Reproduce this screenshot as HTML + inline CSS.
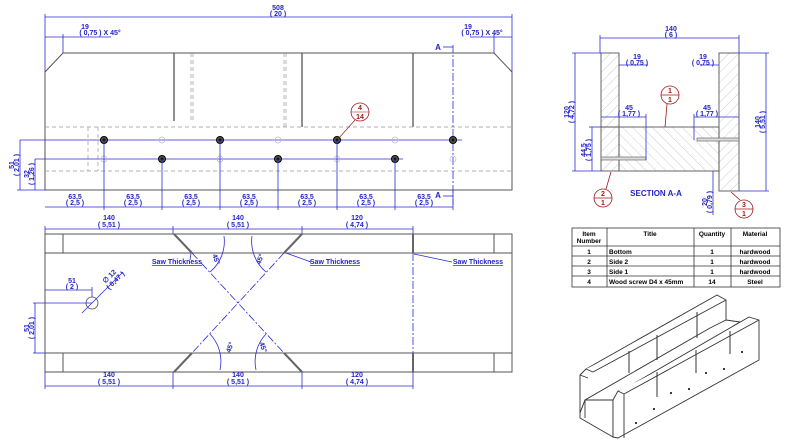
<!DOCTYPE html>
<html><head><meta charset="utf-8"><style>
html,body{margin:0;padding:0;background:#fff;width:800px;height:448px;overflow:hidden}
svg{display:block}
.b{fill:#2323c8;font-family:"Liberation Sans",sans-serif;font-weight:bold;font-size:7px;text-anchor:middle}
.r{fill:#a01818;font-family:"Liberation Sans",sans-serif;font-weight:bold;font-size:7px;text-anchor:middle}
.k{fill:#000;font-family:"Liberation Sans",sans-serif;font-weight:bold;font-size:6.5px}
.dl{stroke:#2a2ad8;stroke-width:0.8;fill:none}
.ol{stroke:#555;stroke-width:1;fill:none}
.hd{stroke:#999;stroke-width:0.7;fill:none;stroke-dasharray:4 3}
.cl{stroke:#2a2ad8;stroke-width:0.8;fill:none;stroke-dasharray:8 2 2 2}
.iso{stroke:#333;stroke-width:0.9;fill:#fff;stroke-linejoin:round}
</style></head><body>
<svg width="800" height="448" viewBox="0 0 800 448" xmlns="http://www.w3.org/2000/svg">
<defs>
<pattern id="h" width="7" height="7" patternUnits="userSpaceOnUse" patternTransform="rotate(45)"><line x1="0" y1="0" x2="0" y2="7" stroke="#aaa" stroke-width="0.6"/></pattern>
<pattern id="h2" width="7" height="7" patternUnits="userSpaceOnUse" patternTransform="rotate(-45)"><line x1="0" y1="0" x2="0" y2="7" stroke="#aaa" stroke-width="0.6"/></pattern>
</defs>

<line class="dl" x1="45" y1="17" x2="512" y2="17"/>
<line class="dl" x1="45" y1="14" x2="45" y2="72"/><line class="dl" x1="512" y1="14" x2="512" y2="72"/>
<text class="b" x="278" y="10">508</text><text class="b" x="278" y="16">( 20 )</text>
<line class="dl" x1="45" y1="37" x2="111" y2="37"/><line class="dl" x1="63" y1="34" x2="63" y2="53"/>
<text class="b" x="85" y="29">19</text><text class="b" x="100" y="35">( 0,75 )  X 45°</text>
<line class="dl" x1="470" y1="37" x2="512" y2="37"/><line class="dl" x1="494" y1="34" x2="494" y2="53"/>
<text class="b" x="468" y="29">19</text><text class="b" x="482" y="35">( 0,75 )  X 45°</text>

<polygon class="ol" points="63,53 494,53 512,72 512,190 45,190 45,72"/>
<line x1="174" y1="53" x2="174" y2="121" stroke="#555" stroke-width="1.3"/>
<line x1="302" y1="53" x2="302" y2="127" stroke="#555" stroke-width="1.3"/>
<line x1="413" y1="53" x2="413" y2="127" stroke="#555" stroke-width="1.3"/>
<line class="hd" x1="191" y1="53" x2="191" y2="121"/><line class="hd" x1="193" y1="53" x2="193" y2="121"/>
<line class="hd" x1="284" y1="53" x2="284" y2="127"/><line class="hd" x1="286" y1="53" x2="286" y2="127"/>
<line class="hd" x1="45" y1="127" x2="512" y2="127"/><line class="hd" x1="45" y1="171" x2="512" y2="171"/>
<line class="hd" x1="88" y1="127" x2="88" y2="171"/><line class="hd" x1="98" y1="127" x2="98" y2="171"/>
<line class="cl" x1="453" y1="45" x2="453" y2="205"/>
<text class="b" x="438" y="50" style="font-size:8px">A</text><line class="dl" x1="443" y1="47" x2="453" y2="47"/>
<text class="b" x="438" y="198" style="font-size:8px">A</text><line class="dl" x1="443" y1="196" x2="453" y2="196"/>

<line class="dl" x1="20" y1="140" x2="462" y2="140"/>
<line class="dl" x1="35" y1="159" x2="403" y2="159"/>
<g fill="#555" stroke="#000" stroke-width="1">
<circle cx="104" cy="140" r="3.5"/><circle cx="220" cy="140" r="3.5"/><circle cx="337" cy="140" r="3.5"/><circle cx="453" cy="140" r="3.5"/>
<circle cx="162" cy="159" r="3.5"/><circle cx="278" cy="159" r="3.5"/><circle cx="395" cy="159" r="3.5"/>
</g>
<g fill="#111">
<circle cx="104" cy="140" r="1.5"/><circle cx="220" cy="140" r="1.5"/><circle cx="337" cy="140" r="1.5"/><circle cx="453" cy="140" r="1.5"/>
<circle cx="162" cy="159" r="1.5"/><circle cx="278" cy="159" r="1.5"/><circle cx="395" cy="159" r="1.5"/>
</g>
<g fill="none" stroke="#bbb" stroke-width="0.7">
<circle cx="162" cy="140" r="3"/><circle cx="278" cy="140" r="3"/><circle cx="395" cy="140" r="3"/>
<circle cx="104" cy="159" r="3"/><circle cx="220" cy="159" r="3"/><circle cx="337" cy="159" r="3"/><circle cx="453" cy="159" r="3"/>
</g>
<circle cx="360" cy="112" r="9" fill="#fff" stroke="#a01818" stroke-width="0.8"/>
<line x1="351" y1="112" x2="369" y2="112" stroke="#a01818" stroke-width="0.6"/>
<line x1="355" y1="120" x2="339" y2="138" stroke="#a01818" stroke-width="0.7"/>
<text class="r" x="360" y="110">4</text><text class="r" x="360" y="119">14</text>

<line class="dl" x1="20" y1="140" x2="20" y2="190"/><line class="dl" x1="17" y1="190" x2="45" y2="190"/>
<text class="b" transform="translate(14,165) rotate(-90)">51</text><text class="b" transform="translate(19,165) rotate(-90)">( 2,01 )</text>
<line class="dl" x1="35" y1="159" x2="35" y2="190"/>
<text class="b" transform="translate(29,174) rotate(-90)">32</text><text class="b" transform="translate(34,174) rotate(-90)">( 1,26 )</text>

<line class="dl" x1="45" y1="207" x2="453" y2="207"/>
<g class="dl">
<line x1="104" y1="140" x2="104" y2="210"/><line x1="162" y1="159" x2="162" y2="210"/><line x1="220" y1="140" x2="220" y2="210"/>
<line x1="278" y1="159" x2="278" y2="210"/><line x1="337" y1="140" x2="337" y2="210"/><line x1="395" y1="159" x2="395" y2="210"/>
<line x1="453" y1="190" x2="453" y2="210"/></g>
<g>
<text class="b" x="75" y="199">63,5</text><text class="b" x="75" y="205">( 2,5 )</text>
<text class="b" x="133" y="199">63,5</text><text class="b" x="133" y="205">( 2,5 )</text>
<text class="b" x="191" y="199">63,5</text><text class="b" x="191" y="205">( 2,5 )</text>
<text class="b" x="249" y="199">63,5</text><text class="b" x="249" y="205">( 2,5 )</text>
<text class="b" x="307" y="199">63,5</text><text class="b" x="307" y="205">( 2,5 )</text>
<text class="b" x="366" y="199">63,5</text><text class="b" x="366" y="205">( 2,5 )</text>
<text class="b" x="424" y="199">63,5</text><text class="b" x="424" y="205">( 2,5 )</text>
</g>

<line class="dl" x1="45" y1="229" x2="413" y2="229"/>
<line class="dl" x1="45" y1="226" x2="45" y2="234"/><line class="dl" x1="173" y1="226" x2="173" y2="234"/><line class="dl" x1="302" y1="226" x2="302" y2="234"/><line class="dl" x1="413" y1="226" x2="413" y2="234"/>
<text class="b" x="109" y="220">140</text><text class="b" x="109" y="227">( 5,51 )</text>
<text class="b" x="238" y="220">140</text><text class="b" x="238" y="227">( 5,51 )</text>
<text class="b" x="357" y="220">120</text><text class="b" x="357" y="227">( 4,74 )</text>
<rect class="ol" x="45" y="234" width="467" height="138"/>
<line class="ol" x1="45" y1="253" x2="512" y2="253"/><line class="ol" x1="45" y1="353" x2="512" y2="353"/>
<line class="ol" x1="63" y1="234" x2="63" y2="253"/><line class="ol" x1="494" y1="234" x2="494" y2="253"/>
<line class="ol" x1="63" y1="353" x2="63" y2="372"/><line class="ol" x1="494" y1="353" x2="494" y2="372"/>
<g stroke="#666" stroke-width="2">
<line x1="174" y1="234" x2="192" y2="253"/><line x1="302" y1="234" x2="284" y2="253"/>
<line x1="174" y1="372" x2="192" y2="353"/><line x1="302" y1="372" x2="284" y2="353"/>
<line x1="413" y1="234" x2="413" y2="253"/><line x1="413" y1="353" x2="413" y2="372"/></g>
<line class="cl" x1="192" y1="253" x2="284" y2="353"/><line class="cl" x1="284" y1="253" x2="192" y2="353"/>
<line class="cl" x1="413" y1="253" x2="413" y2="353"/>
<path class="dl" d="M210,272 A40 40 0 0 0 224,236"/><path class="dl" d="M266,272 A40 40 0 0 1 252,236"/>
<path class="dl" d="M210,334 A40 40 0 0 1 220,370"/><path class="dl" d="M266,334 A40 40 0 0 0 256,370"/>
<text class="b" transform="translate(214,260) rotate(70)">45°</text><text class="b" transform="translate(262,260) rotate(-70)">45°</text>
<text class="b" transform="translate(232,348) rotate(-70)">45°</text><text class="b" transform="translate(261,348) rotate(70)">45°</text>
<text class="b" x="177" y="264" style="text-decoration:underline">Saw Thickness</text><line class="dl" x1="190" y1="260" x2="191" y2="253"/>
<text class="b" x="335" y="264" style="text-decoration:underline">Saw Thickness</text><line class="dl" x1="311" y1="262" x2="286" y2="253"/>
<text class="b" x="478" y="264" style="text-decoration:underline">Saw Thickness</text><line class="dl" x1="452" y1="262" x2="414" y2="254"/>
<circle cx="92" cy="303" r="6" fill="none" stroke="#444" stroke-width="0.8"/>
<line class="dl" x1="82" y1="313" x2="123" y2="272"/>
<text class="b" transform="translate(111,278) rotate(-45)">∅  12</text><text class="b" transform="translate(117,282) rotate(-45)">( 0,47 )</text>
<line class="dl" x1="45" y1="290" x2="92" y2="290"/><line class="dl" x1="92" y1="287" x2="92" y2="297"/>
<text class="b" x="72" y="283">51</text><text class="b" x="72" y="289">( 2 )</text>
<line class="dl" x1="33" y1="303" x2="92" y2="303"/><line class="dl" x1="35" y1="303" x2="35" y2="353"/><line class="dl" x1="33" y1="353" x2="45" y2="353"/>
<text class="b" transform="translate(29,328) rotate(-90)">51</text><text class="b" transform="translate(34,328) rotate(-90)">( 2,01 )</text>
<line class="dl" x1="45" y1="386" x2="413" y2="386"/>
<line class="dl" x1="45" y1="372" x2="45" y2="389"/><line class="dl" x1="173" y1="372" x2="173" y2="389"/><line class="dl" x1="302" y1="372" x2="302" y2="389"/><line class="dl" x1="413" y1="372" x2="413" y2="389"/>
<text class="b" x="109" y="377">140</text><text class="b" x="109" y="384">( 5,51 )</text>
<text class="b" x="238" y="377">140</text><text class="b" x="238" y="384">( 5,51 )</text>
<text class="b" x="357" y="377">120</text><text class="b" x="357" y="384">( 4,74 )</text>

<line class="dl" x1="600" y1="38" x2="739" y2="38"/><line class="dl" x1="600" y1="35" x2="600" y2="53"/><line class="dl" x1="739" y1="35" x2="739" y2="53"/>
<text class="b" x="671" y="31">140</text><text class="b" x="671" y="37">( 6 )</text>
<rect x="601" y="53" width="18" height="118" fill="url(#h)" stroke="#555" stroke-width="0.9"/>
<rect x="719" y="53" width="20" height="138" fill="url(#h)" stroke="#555" stroke-width="0.9"/>
<rect x="619" y="127" width="100" height="44" fill="url(#h2)" stroke="#555" stroke-width="0.9"/>
<line class="ol" x1="601" y1="127" x2="619" y2="127"/>
<rect x="601" y="157" width="45" height="3" fill="#ddd" stroke="#555" stroke-width="0.6"/>
<rect x="697" y="138" width="42" height="3" fill="#ddd" stroke="#555" stroke-width="0.6"/>
<line class="dl" x1="619" y1="65" x2="648" y2="65"/><text class="b" x="637" y="59">19</text><text class="b" x="637" y="65">( 0,75 )</text>
<line class="dl" x1="700" y1="65" x2="719" y2="65"/><text class="b" x="703" y="59">19</text><text class="b" x="703" y="65">( 0,75 )</text>
<line class="dl" x1="601" y1="117" x2="646" y2="117"/><line class="dl" x1="646" y1="114" x2="646" y2="160"/>
<text class="b" x="629" y="110">45</text><text class="b" x="629" y="116">( 1,77 )</text>
<line class="dl" x1="694" y1="117" x2="739" y2="117"/><line class="dl" x1="694" y1="114" x2="694" y2="140"/>
<text class="b" x="707" y="110">45</text><text class="b" x="707" y="116">( 1,77 )</text>
<line class="dl" x1="575" y1="53" x2="575" y2="171"/><line class="dl" x1="572" y1="53" x2="601" y2="53"/><line class="dl" x1="572" y1="171" x2="601" y2="171"/>
<text class="b" transform="translate(569,112) rotate(-90)">120</text><text class="b" transform="translate(574,112) rotate(-90)">( 4,72 )</text>
<line class="dl" x1="592" y1="127" x2="592" y2="171"/><line class="dl" x1="589" y1="127" x2="601" y2="127"/>
<text class="b" transform="translate(586,150) rotate(-90)">44,5</text><text class="b" transform="translate(591,150) rotate(-90)">( 1,75 )</text>
<line class="dl" x1="766" y1="53" x2="766" y2="191"/><line class="dl" x1="739" y1="53" x2="769" y2="53"/><line class="dl" x1="739" y1="191" x2="769" y2="191"/>
<text class="b" transform="translate(760,122) rotate(-90)">140</text><text class="b" transform="translate(765,122) rotate(-90)">( 5,51 )</text>
<line class="dl" x1="713" y1="171" x2="713" y2="215"/>
<text class="b" transform="translate(707,202) rotate(-90)">20</text><text class="b" transform="translate(712,202) rotate(-90)">( 0,79 )</text>
<g stroke="#a01818" stroke-width="0.8" fill="#fff">
<circle cx="670" cy="95" r="9"/><line x1="661" y1="95" x2="679" y2="95"/><line x1="667" y1="104" x2="665" y2="127"/>
<circle cx="603" cy="198" r="9"/><line x1="594" y1="198" x2="612" y2="198"/><line x1="606" y1="189" x2="611" y2="172"/>
<circle cx="744" cy="209" r="9"/><line x1="735" y1="209" x2="753" y2="209"/><line x1="740" y1="200" x2="731" y2="192"/>
</g>
<text class="r" x="670" y="93">1</text><text class="r" x="670" y="102">1</text>
<text class="r" x="603" y="196">2</text><text class="r" x="603" y="205">1</text>
<text class="r" x="744" y="207">3</text><text class="r" x="744" y="216">1</text>
<text class="b" x="656" y="196" style="font-size:8px">SECTION A-A</text>

<g stroke="#333" stroke-width="0.8" fill="none">
<rect x="572" y="228" width="208" height="59"/>
<line x1="572" y1="246" x2="780" y2="246"/><line x1="572" y1="256" x2="780" y2="256"/><line x1="572" y1="266" x2="780" y2="266"/><line x1="572" y1="276" x2="780" y2="276"/>
<line x1="607" y1="228" x2="607" y2="287"/><line x1="694" y1="228" x2="694" y2="287"/><line x1="731" y1="228" x2="731" y2="287"/>
</g>
<g class="k">
<text x="589" y="236" text-anchor="middle">Item</text><text x="589" y="243" text-anchor="middle">Number</text>
<text x="650" y="236" text-anchor="middle">Title</text><text x="712" y="236" text-anchor="middle">Quantity</text><text x="755" y="236" text-anchor="middle">Material</text>
<text x="589" y="254" text-anchor="middle">1</text><text x="609" y="254" text-anchor="start">Bottom</text><text x="712" y="254" text-anchor="middle">1</text><text x="755" y="254" text-anchor="middle">hardwood</text>
<text x="589" y="264" text-anchor="middle">2</text><text x="609" y="264" text-anchor="start">Side 2</text><text x="712" y="264" text-anchor="middle">1</text><text x="755" y="264" text-anchor="middle">hardwood</text>
<text x="589" y="274" text-anchor="middle">3</text><text x="609" y="274" text-anchor="start">Side 1</text><text x="712" y="274" text-anchor="middle">1</text><text x="755" y="274" text-anchor="middle">hardwood</text>
<text x="589" y="284" text-anchor="middle">4</text><text x="609" y="284" text-anchor="start">Wood screw D4 x 45mm</text><text x="712" y="284" text-anchor="middle">14</text><text x="755" y="284" text-anchor="middle">Steel</text>
</g>

<polygon class="iso" points="580,375 586,369 717,295 726,300 726,320 585,400 580,413"/>
<polyline class="iso" points="586,369 593,372 726,300" fill="none"/>
<line class="iso" x1="580" y1="375" x2="588" y2="378"/>
<polygon class="iso" points="585,400 710,328 726,320 740,322 613,400"/>
<polygon class="iso" points="580,413 585,400 613,400 613,437 580,418"/>
<line class="iso" x1="585" y1="400" x2="585" y2="418"/>
<polygon class="iso" points="613,400 618,391 626,388 749,317 759,320 759,360 618,438 613,437"/>
<polyline class="iso" points="618,391 624,394 759,320" fill="none"/>
<line class="iso" x1="624" y1="394" x2="624" y2="438"/>
<g stroke="#333" stroke-width="1">
<line x1="629" y1="351" x2="629" y2="373"/><line x1="657" y1="335" x2="657" y2="360"/><line x1="697" y1="312" x2="697" y2="338"/>
<line x1="657" y1="372" x2="657" y2="397"/><line x1="696" y1="350" x2="696" y2="373"/><line x1="730" y1="331" x2="730" y2="354"/>
</g>
<g fill="#000">
<circle cx="636" cy="423" r="1"/><circle cx="654" cy="409" r="1"/><circle cx="671" cy="393" r="1"/><circle cx="689" cy="389" r="1"/>
<circle cx="706" cy="373" r="1"/><circle cx="724" cy="369" r="1"/><circle cx="742" cy="352" r="1"/>
</g>
</svg>
</body></html>
